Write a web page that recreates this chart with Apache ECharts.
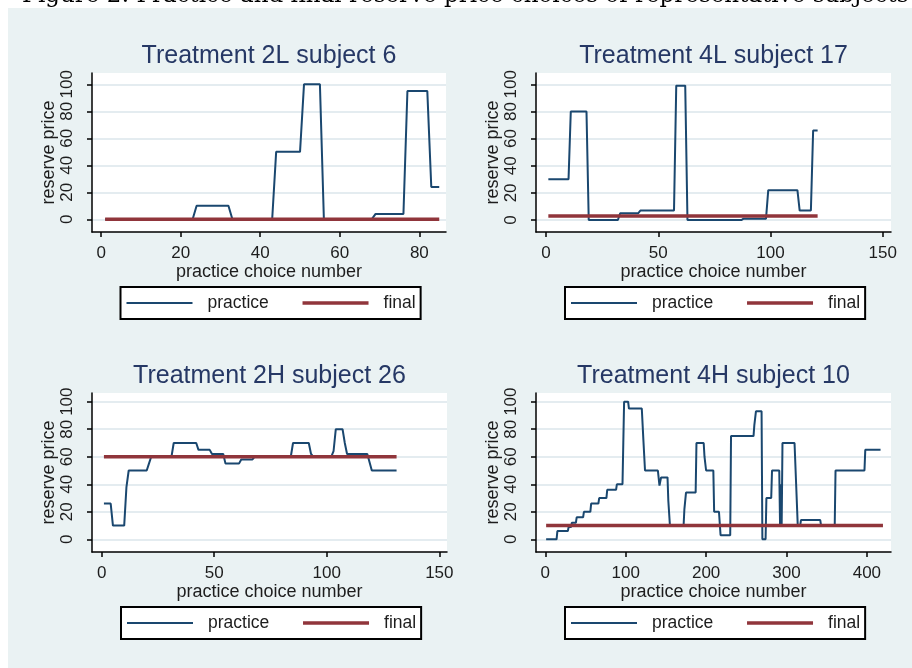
<!DOCTYPE html>
<html>
<head>
<meta charset="utf-8">
<title>Practice and final reserve price choices</title>
<script src="https://cdn.jsdelivr.net/npm/echarts@6/dist/echarts.min.js"></script>
<style>
  html, body { margin: 0; padding: 0; background: #fff; }
  #chart { width: 912px; height: 668px; }
</style>
</head>
<body>
<div id="chart"></div>
<script>
// Panel titles
const panelTitles = [
  'Treatment 2L subject 6',
  'Treatment 4L subject 17',
  'Treatment 2H subject 26',
  'Treatment 4H subject 10'
];

// Practice choices: [choice number, reserve price] at each point where the value changes
const practice2L6 = [[1,0],[23,0],[24,10],[32,10],[33,0],[43,0],[44,50],[50,50],[51,100],[55,100],[56,0],[68,0],[69,4],[76,4],[77,95],[82,95],[83,24],[85,24]];
const practice4L17 = [[1,30],[10,30],[11,80],[18,80],[19,0],[32,0],[33,5],[41,5],[42,7],[57,7],[58,99],[62,99],[63,0],[87,0],[88,1],[98,1],[99,22],[112,22],[113,7],[118,7],[119,66],[121,66]];
const practice2H26 = [[1,26],[4,26],[5,10],[10,10],[11,38],[12,50],[20,50],[21,55],[22,60],[31,60],[32,70],[42,70],[43,65],[48,65],[49,62],[54,62],[55,55],[61,55],[62,58],[67,58],[68,60],[84,60],[85,70],[92,70],[93,62],[94,60],[102,60],[103,64],[104,80],[107,80],[108,70],[109,62],[118,62],[119,56],[120,50],[131,50]];
const practice4H10 = [[1,0],[14,0],[15,6],[28,6],[29,9],[32,9],[33,12],[38,12],[39,16],[47,16],[48,20],[56,20],[57,26],[66,26],[67,30],[76,30],[77,36],[88,36],[89,40],[96,40],[97,70],[98,100],[103,100],[104,95],[120,95],[122,72],[124,50],[140,50],[142,39],[144,45],[152,45],[153,28],[155,10],[172,10],[173,22],[175,34],[187,34],[188,70],[197,70],[198,60],[199,60],[200,50],[209,50],[210,20],[216,20],[218,3],[230,3],[231,75],[259,75],[260,83],[262,93],[269,93],[270,0],[274,0],[275,30],[281,30],[282,50],[291,50],[292,10],[293,40],[294,10],[295,70],[310,70],[312,40],[314,10],[317,10],[318,14],[342,14],[343,10],[360,10],[361,50],[397,50],[398,65],[417,65]];

// Final choices (constant over the practice rounds)
const final2L6 = [[1,0],[85,0]];
const final4L17 = [[1,3],[121,3]];
const final2H26 = [[1,60],[131,60]];
const final4H10 = [[1,10],[420,10]];

// Tick labels
const yTicks = [0, 20, 40, 60, 80, 100];
const xTicks = [
  [0, 20, 40, 60, 80],
  [0, 50, 100, 150],
  [0, 50, 100, 150],
  [0, 100, 200, 300, 400]
];

const practiceSets = [practice2L6, practice4L17, practice2H26, practice4H10];
const finalSets = [final2L6, final4L17, final2H26, final4H10];

// Panel geometry and axis extents
const panels = [
  { left: 92,  top: 73,  width: 354, xMin: -2.3,  xMax: 86.7,  yMin: -9.4, yMax: 108.4 },
  { left: 536, top: 73,  width: 355, xMin: -4.5,  xMax: 153.7, yMin: -8.8, yMax: 108.3 },
  { left: 92,  top: 393, width: 355, xMin: -4.3,  xMax: 153.4, yMin: -9.2, yMax: 106.3 },
  { left: 536, top: 393, width: 355, xMin: -11.6, xMax: 430,   yMin: -9.2, yMax: 106.3 }
];
const PLOT_H = 159;

const FONT = '"Liberation Sans", Arial, sans-serif';
const TEXT = '#1d1d1d';
const NAVY = '#1a476f';
const MAROON = '#90353b';
const PRACTICE_W = 2;
const FINAL_W = 3.5;

const chart = echarts.init(document.getElementById('chart'), null, { renderer: 'canvas' });

const grid = [], xAxis = [], yAxis = [], series = [], title = [], legend = [];

panels.forEach((p, i) => {
  grid.push({
    left: p.left, top: p.top, width: p.width, height: PLOT_H,
    show: true, backgroundColor: '#ffffff', borderWidth: 0
  });
  xAxis.push({
    type: 'value', gridIndex: i, min: p.xMin, max: p.xMax,
    name: 'practice choice number', nameLocation: 'middle', nameGap: 21,
    nameTextStyle: { fontFamily: FONT, fontSize: 18, color: TEXT },
    axisLine: { show: true, onZero: false, lineStyle: { color: '#000', width: 1.5 } },
    axisTick: { show: true, length: 5, lineStyle: { color: '#000', width: 1.5 }, customValues: xTicks[i] },
    axisLabel: { customValues: xTicks[i], margin: 13, fontFamily: FONT, fontSize: 17, color: TEXT },
    splitLine: { show: false }
  });
  yAxis.push({
    type: 'value', gridIndex: i, min: p.yMin, max: p.yMax,
    name: 'reserve price', nameLocation: 'middle', nameGap: 34, nameRotate: 90,
    nameTextStyle: { fontFamily: FONT, fontSize: 18, color: TEXT },
    axisLine: { show: true, onZero: false, lineStyle: { color: '#000', width: 1.5 } },
    axisTick: { show: true, length: 5, lineStyle: { color: '#000', width: 1.5 }, customValues: yTicks },
    axisLabel: { customValues: yTicks, rotate: 90, margin: 16, fontFamily: FONT, fontSize: 17, color: TEXT },
    splitLine: { show: true, lineStyle: { color: '#e4ecf0', width: 2 } }
  });
  series.push({
    name: 'practice', type: 'line', xAxisIndex: i, yAxisIndex: i,
    data: practiceSets[i], symbol: 'none', animation: false,
    lineStyle: { color: NAVY, width: PRACTICE_W }, itemStyle: { color: NAVY }
  });
  series.push({
    name: 'final', type: 'line', xAxisIndex: i, yAxisIndex: i,
    data: finalSets[i], symbol: 'none', animation: false,
    lineStyle: { color: MAROON, width: FINAL_W }, itemStyle: { color: MAROON }
  });
  title.push({
    text: panelTitles[i], left: p.left + p.width / 2, top: p.top - 29, textAlign: 'center',
    padding: 0,
    textStyle: { fontFamily: FONT, fontSize: 25, fontWeight: 'normal', color: '#263865' }
  });
  legend.push({
    data: [
      { name: 'practice', lineStyle: { width: PRACTICE_W, color: NAVY } },
      { name: 'final', lineStyle: { width: FINAL_W, color: MAROON } }
    ],
    left: p.left + p.width / 2 - 148.5, top: p.top + 214,
    orient: 'horizontal', itemWidth: 66, itemHeight: 14, itemGap: 32,
    padding: [7, 5], borderColor: '#000', borderWidth: 2, backgroundColor: '#ffffff',
    selectedMode: false,
    itemStyle: { opacity: 0 },
    textStyle: { fontFamily: FONT, fontSize: 17.5, color: TEXT, padding: [0, 2, 0, 10] }
  });
});

chart.setOption({
  backgroundColor: '#eaf2f3',
  animation: false,
  title, legend, grid, xAxis, yAxis, series,
  graphic: {
    elements: [
      { type: 'rect', shape: { x: 0, y: 0, width: 912, height: 8 }, style: { fill: '#ffffff' }, silent: true },
      { type: 'rect', shape: { x: 0, y: 0, width: 8, height: 668 }, style: { fill: '#ffffff' }, silent: true },
      {
        type: 'text', x: 22, y: 8, silent: true,
        style: {
          text: 'Figure 2: Practice and final reserve price choices of representative subjects',
          font: '23px "DejaVu Serif", serif', fill: '#000', verticalAlign: 'bottom'
        }
      }
    ]
  }
});
</script>
</body>
</html>
